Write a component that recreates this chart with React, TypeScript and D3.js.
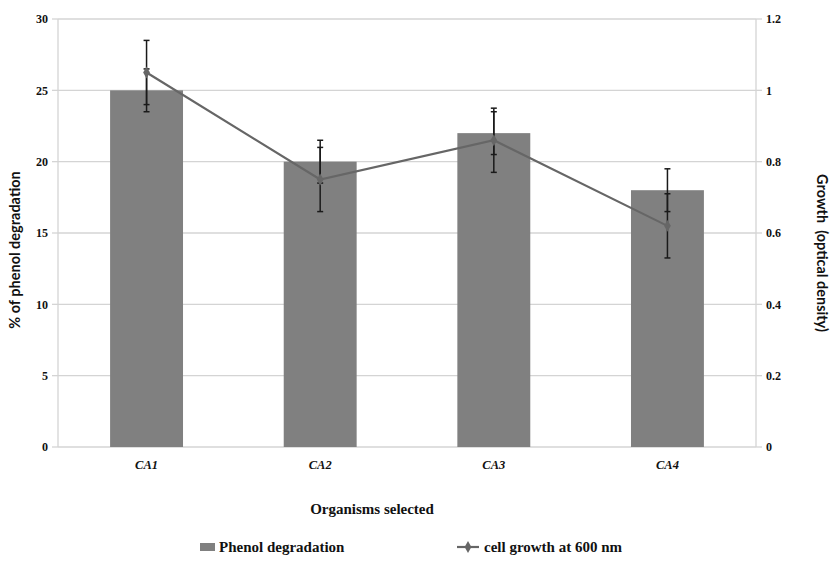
import React from "react";
import * as d3 from "d3";

const categories = ["CA1", "CA2", "CA3", "CA4"];
const phenolDegradation = [25, 20, 22, 18];
const phenolError = [1.5, 1.5, 1.5, 1.5];
const cellGrowth = [1.05, 0.75, 0.86, 0.62];
const growthError = [0.09, 0.09, 0.09, 0.09];
const leftTicks = [0, 5, 10, 15, 20, 25, 30];
const rightTicks = [0, 0.2, 0.4, 0.6, 0.8, 1, 1.2];

const W = 833;
const H = 577;
const M = { left: 58, right: 756, top: 19, bottom: 447 };

export default function App() {
  const x = d3.scaleBand<string>().domain(categories).range([M.left, M.right]).paddingInner(0.58).paddingOuter(0.3);
  const yL = d3.scaleLinear().domain([0, 30]).range([M.bottom, M.top]);
  const yR = d3.scaleLinear().domain([0, 1.2]).range([M.bottom, M.top]);
  const cx = (c: string) => (x(c) as number) + x.bandwidth() / 2;
  const line = d3
    .line<number>()
    .x((_, i) => cx(categories[i]))
    .y((d) => yR(d));
  const serif = "'Liberation Serif', 'DejaVu Serif', serif";
  const sans = "Lato, 'Open Sans', sans-serif";
  const grid = "#d4d4d4";
  const cap = 3;
  const diamond = d3.symbol().type(d3.symbolDiamond).size(40)();

  return (
    <svg width={W} height={H} style={{ position: "absolute", left: 0, top: 0, background: "#fff" }}>
      {leftTicks.map((t) => (
        <line key={"g" + t} x1={M.left} x2={M.right} y1={yL(t)} y2={yL(t)} stroke={grid} strokeWidth={1.3} />
      ))}
      <line x1={M.left} x2={M.left} y1={M.top} y2={M.bottom} stroke={grid} strokeWidth={1.3} />
      <line x1={M.right} x2={M.right} y1={M.top} y2={M.bottom} stroke={grid} strokeWidth={1.3} />
      {leftTicks.map((t) => (
        <g key={"lt" + t}>
          <line x1={M.left - 6} x2={M.left} y1={yL(t)} y2={yL(t)} stroke={grid} strokeWidth={1.3} />
          <text x={48} y={yL(t)} dy="0.35em" textAnchor="end" fontFamily={serif} fontWeight="bold" fontSize={12} fill="#111">
            {t}
          </text>
        </g>
      ))}
      {rightTicks.map((t) => (
        <g key={"rt" + t}>
          <line x1={M.right} x2={M.right + 6} y1={yR(t)} y2={yR(t)} stroke={grid} strokeWidth={1.3} />
          <text x={766} y={yR(t)} dy="0.35em" textAnchor="start" fontFamily={serif} fontWeight="bold" fontSize={12} fill="#111">
            {t}
          </text>
        </g>
      ))}
      {categories.map((c, i) => (
        <rect key={"b" + c} x={x(c)} y={yL(phenolDegradation[i])} width={x.bandwidth()} height={M.bottom - yL(phenolDegradation[i])} fill="#808080" />
      ))}
      {categories.map((c, i) => {
        const lo = yL(phenolDegradation[i] - phenolError[i]);
        const hi = yL(phenolDegradation[i] + phenolError[i]);
        const xc = cx(c);
        return (
          <g key={"be" + c} stroke="#1a1a1a" strokeWidth={1.5}>
            <line x1={xc} x2={xc} y1={lo} y2={hi} />
            <line x1={xc - cap} x2={xc + cap} y1={lo} y2={lo} />
            <line x1={xc - cap} x2={xc + cap} y1={hi} y2={hi} />
          </g>
        );
      })}
      <path d={line(cellGrowth) || ""} fill="none" stroke="#666" strokeWidth={2.2} />
      {categories.map((c, i) => {
        const lo = yR(cellGrowth[i] - growthError[i]);
        const hi = yR(cellGrowth[i] + growthError[i]);
        const xc = cx(c);
        return (
          <g key={"le" + c}>
            <g stroke="#1a1a1a" strokeWidth={1.5}>
              <line x1={xc} x2={xc} y1={lo} y2={hi} />
              <line x1={xc - cap} x2={xc + cap} y1={lo} y2={lo} />
              <line x1={xc - cap} x2={xc + cap} y1={hi} y2={hi} />
            </g>
            <path d={diamond || ""} transform={`translate(${xc},${yR(cellGrowth[i])})`} fill="#666" />
          </g>
        );
      })}
      {categories.map((c) => (
        <text key={"c" + c} x={cx(c)} y={465} dy="0.35em" textAnchor="middle" fontFamily={serif} fontWeight="bold" fontStyle="italic" fontSize={12.5} fill="#111">
          {c}
        </text>
      ))}
      <text x={372} y={509} dy="0.35em" textAnchor="middle" fontFamily={serif} fontWeight="bold" fontSize={15} fill="#111">
        Organisms selected
      </text>
      <text transform={`translate(15,250) rotate(-90)`} dy="0.35em" textAnchor="middle" fontFamily={sans} fontWeight="bold" fontSize={14.5} fill="#111">
        % of phenol degradation
      </text>
      <text transform={`translate(822,253) rotate(90)`} dy="0.35em" textAnchor="middle" fontFamily={sans} fontWeight="bold" fontSize={14.5} fill="#111" style={{ whiteSpace: "pre" }}>
        {"Growth  (optical density)"}
      </text>
      <rect x={200} y={543} width={15} height={8} fill="#808080" />
      <text x={219} y={547} dy="0.35em" fontFamily={serif} fontWeight="bold" fontSize={15} fill="#111">
        Phenol degradation
      </text>
      <line x1={457} x2={479} y1={547} y2={547} stroke="#666" strokeWidth={2.2} />
      <path d={diamond || ""} transform="translate(468,547)" fill="#666" />
      <text x={484} y={547} dy="0.35em" fontFamily={serif} fontWeight="bold" fontSize={15} fill="#111">
        cell growth at 600 nm
      </text>
    </svg>
  );
}
